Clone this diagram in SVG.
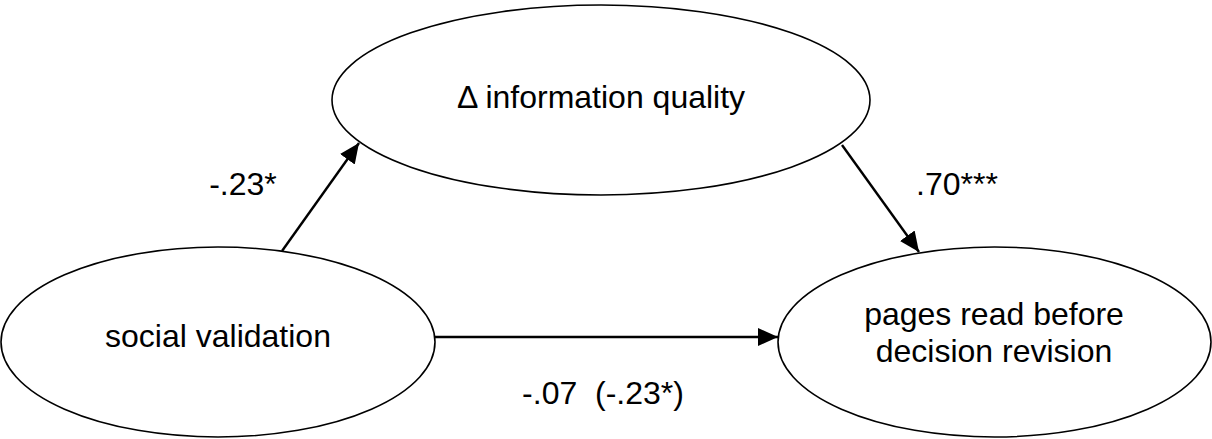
<svg xmlns="http://www.w3.org/2000/svg" width="1212" height="439" viewBox="0 0 1212 439">
  <style>
    .node { fill: #ffffff; stroke: #000000; stroke-width: 1.6; }
    .label { font-family: "Liberation Sans", Arial, sans-serif; font-size: 32px; fill: #000000; text-anchor: middle; }
    .edge { stroke: #000000; stroke-width: 2.4; fill: none; marker-end: url(#arrow); }
  </style>
  <defs>
    <marker id="arrow" markerUnits="userSpaceOnUse" markerWidth="20" markerHeight="18" refX="20" refY="9" orient="auto">
      <path d="M0,0 L20,9 L0,18 z" fill="#000000"/>
    </marker>
  </defs>
  <rect width="1212" height="439" fill="#ffffff"/>

  <g id="info-quality">
    <ellipse class="node" cx="601" cy="100" rx="269" ry="95"/>
    <text class="label" x="601" y="108">Δ information quality</text>
  </g>

  <g id="social-validation">
    <ellipse class="node" cx="218" cy="342" rx="217" ry="95"/>
    <text class="label" x="218" y="347">social validation</text>
  </g>

  <g id="pages-read">
    <ellipse class="node" cx="994.5" cy="342" rx="216.5" ry="95"/>
    <text class="label" x="994" y="325">pages read before</text>
    <text class="label" x="994" y="362">decision revision</text>
  </g>

  <g id="connectors">
    <line class="edge" x1="282" y1="251" x2="359" y2="143"/>
    <line class="edge" x1="842" y1="145" x2="919" y2="252"/>
    <line class="edge" x1="435" y1="337" x2="778" y2="337"/>
    <text class="label" x="243" y="195">-.23*</text>
    <text class="label" x="957" y="195">.70***</text>
    <text class="label" x="603" y="404" xml:space="preserve">-.07  (-.23*)</text>
  </g>
</svg>
